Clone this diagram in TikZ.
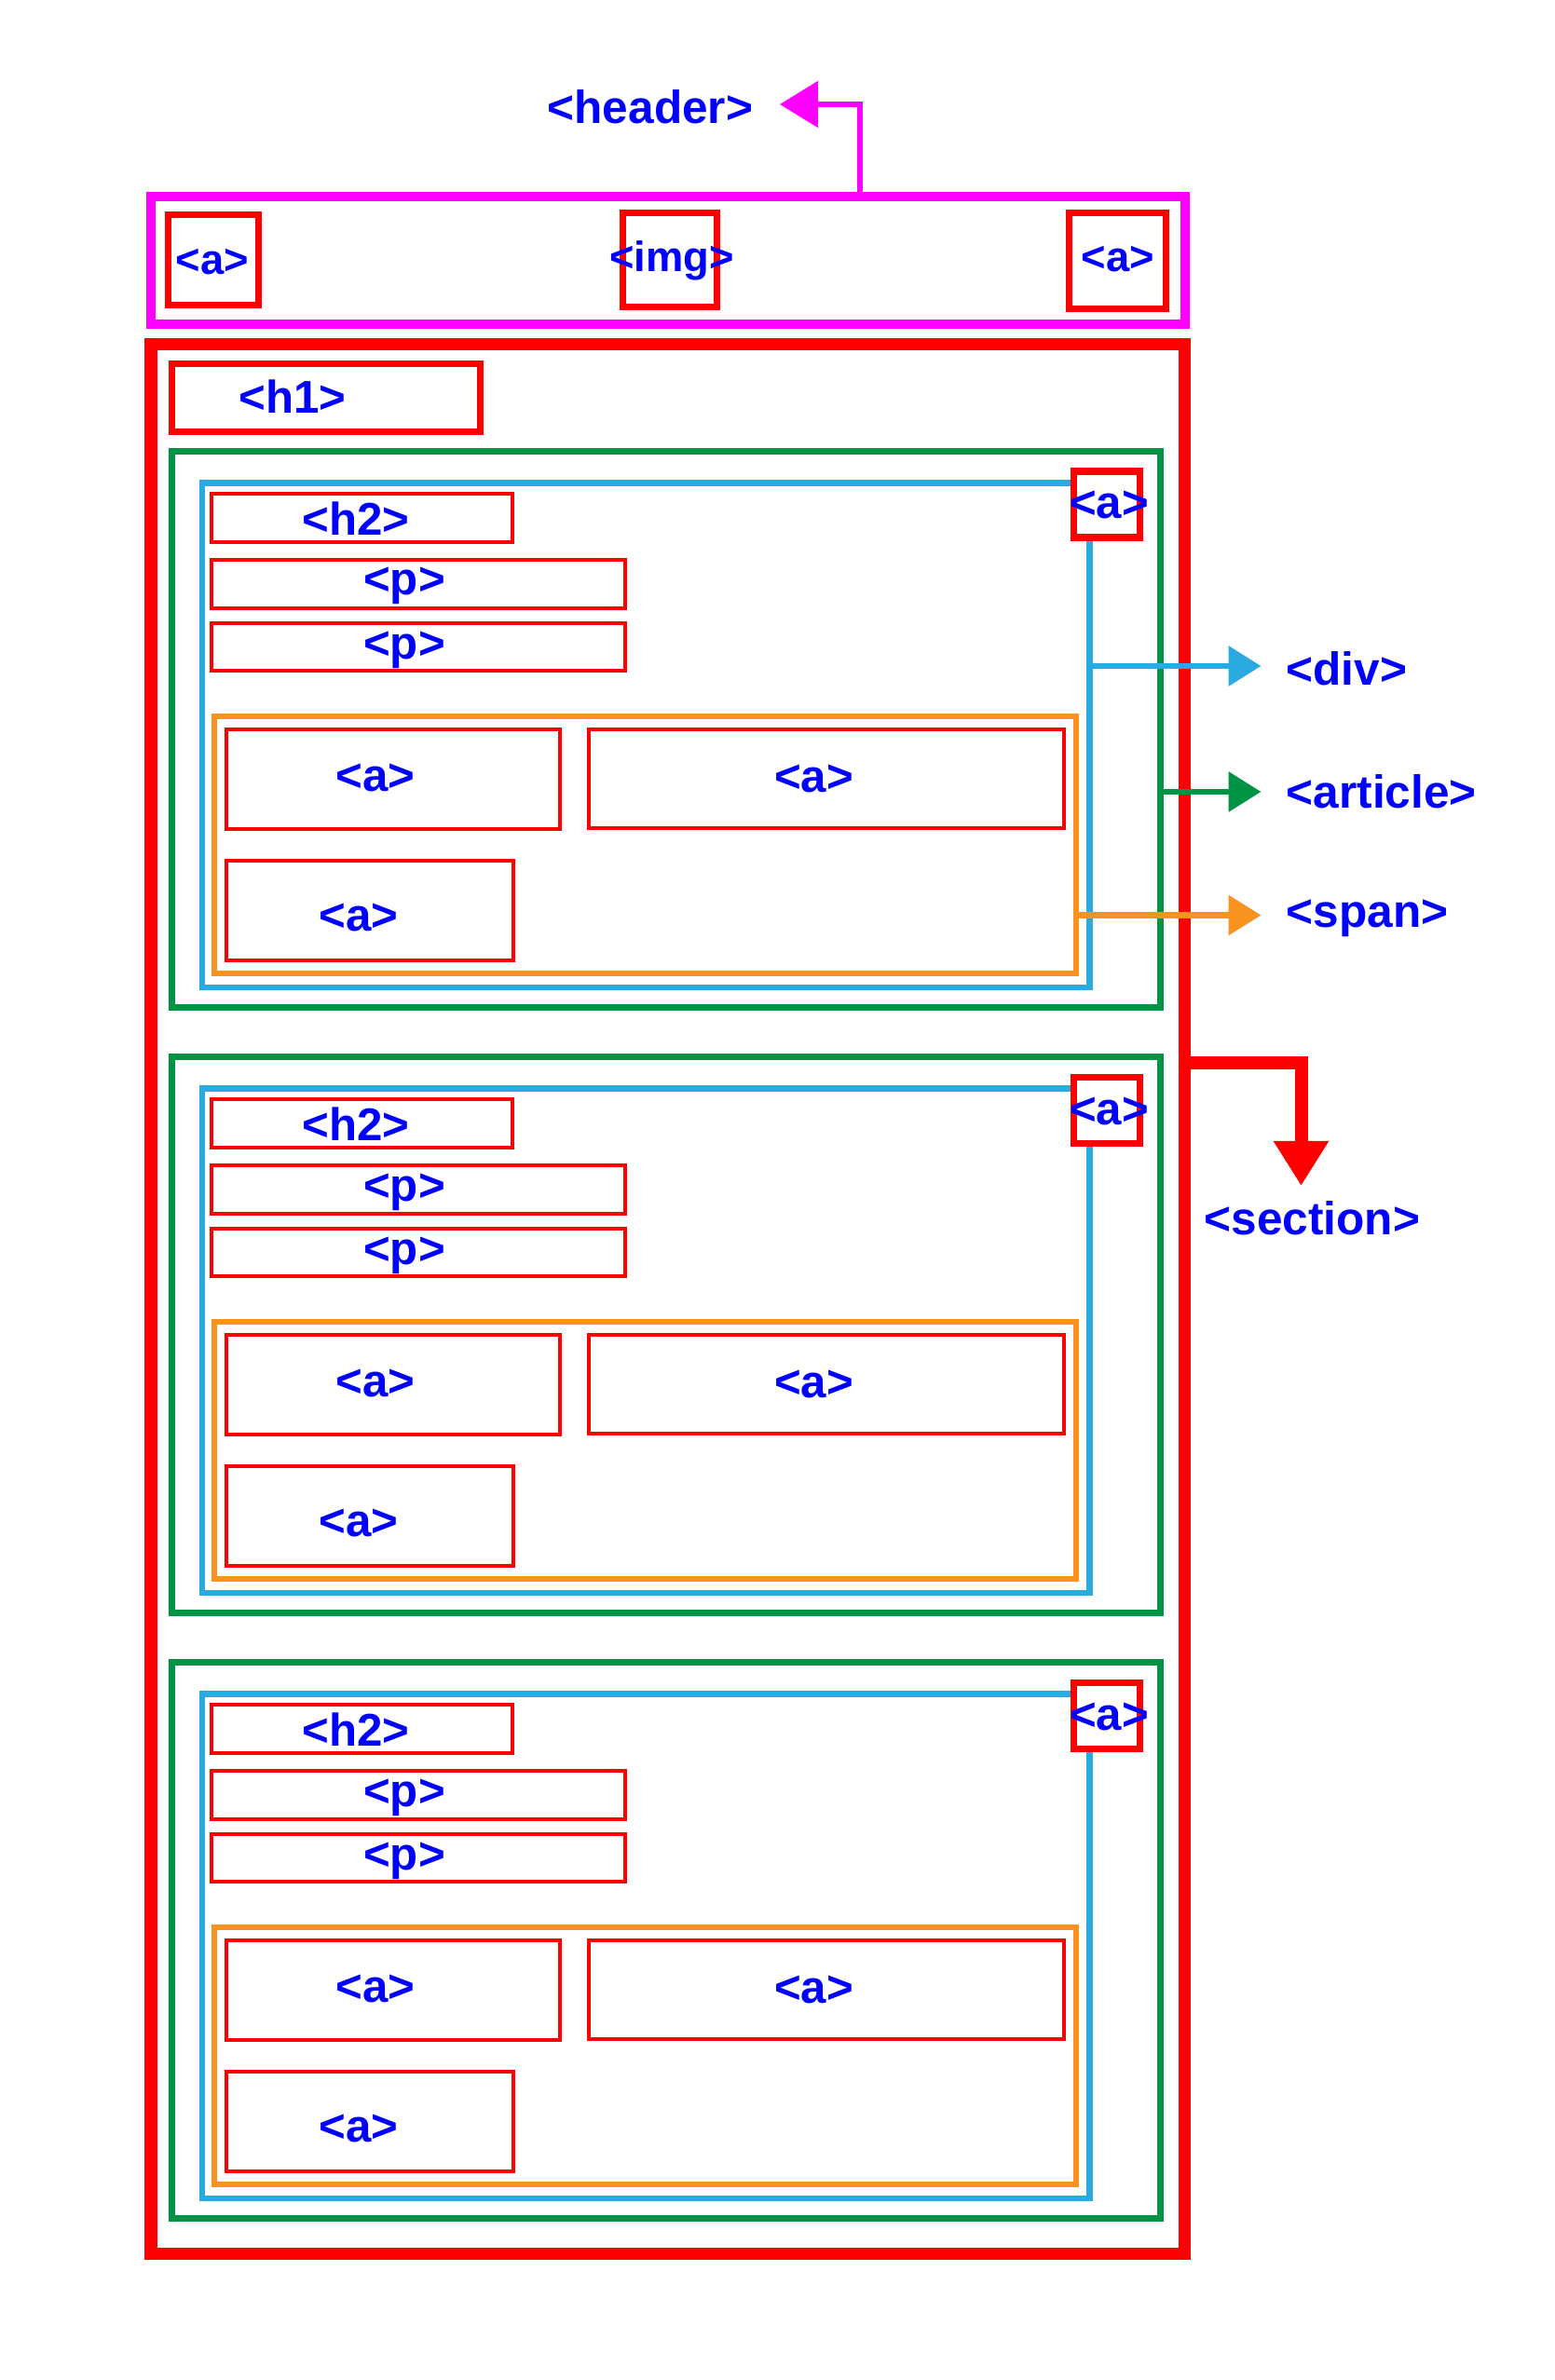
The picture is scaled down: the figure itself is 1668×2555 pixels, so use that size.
\documentclass[tikz,border=0pt]{standalone}
\usepackage{fontspec}
\setmainfont{Liberation Sans}
\usetikzlibrary{arrows.meta,fit}
\definecolor{mag}{RGB}{255,0,255}
\definecolor{rd}{RGB}{255,0,0}
\definecolor{grn}{RGB}{0,146,69}
\definecolor{lblue}{RGB}{41,171,226}
\definecolor{orng}{RGB}{247,147,30}
\definecolor{txtblue}{RGB}{0,0,255}
\begin{document}
\begin{tikzpicture}[x=0.01cm,y=-0.01cm,
  box/.style={rectangle, inner sep=0pt, outer sep=0pt},
  redthin/.style={box, draw=rd, line width=0.042cm},
  redmid/.style={box, draw=rd, line width=0.07cm},
  sectionbox/.style={box, draw=rd, line width=0.13cm},
  headerbox/.style={box, draw=mag, line width=0.10cm},
  articlebox/.style={box, draw=grn, line width=0.07cm},
  divbox/.style={box, draw=lblue, line width=0.065cm},
  spanbox/.style={box, draw=orng, line width=0.065cm},
  lab/.style={text=txtblue, font=\fontsize{14pt}{16pt}\selectfont\bfseries, inner sep=0pt, anchor=base},
  hlab/.style={lab, font=\fontsize{12.9pt}{15pt}\selectfont\bfseries},
  sidelab/.style={lab, anchor=base west, font=\fontsize{14.1pt}{16pt}\selectfont\bfseries},
  smallarrow/.style={line width=0.065cm, -{Triangle[length=0.35cm, width=0.42cm]}},
]
\fill[white] (0,0) rectangle (1668,2555);
\useasboundingbox (0,0) rectangle (1668,2555);

% header
\node[headerbox, fit={(162,211) (1272,348)}] (header) {};
\node[redmid, fit={(180,231) (277.5,328)}] (ha1) {};
\node[redmid, fit={(668,229) (769,329.5)}] (himg) {};
\node[redmid, fit={(1147,229) (1251,332)}] (ha2) {};
\node[hlab] (ha1l) at (228,295) {<a>};
\node[hlab] (himgl) at (721,292) {<img>};
\node[hlab] (ha2l) at (1200,292) {<a>};

% section
\node[sectionbox, fit={(162,369.5) (1271,2419)}] (section) {};
\node[redmid, fit={(184,391) (515,464)}] (h1) {};
\node[lab] (h1l) at (314,444) {<h1>};

\foreach \i/\dy in {1/0,2/650,3/1300}{
  \node[articlebox, fit={(184.5,484.5+\dy) (1245,1081+\dy)}] (art\i) {};
  \node[divbox, fit={(217,518.6+\dy) (1169.5,1060+\dy)}] (div\i) {};
  \node[redthin, fit={(227,530+\dy) (550,582+\dy)}] (h2\i) {};
  \node[redthin, fit={(227,601+\dy) (671,653+\dy)}] (pa\i) {};
  \node[redthin, fit={(227,669+\dy) (671,720+\dy)}] (pb\i) {};
  \node[spanbox, fit={(230,769+\dy) (1155,1045+\dy)}] (span\i) {};
  \node[redthin, fit={(243,783+\dy) (601,890+\dy)}] (aa\i) {};
  \node[redthin, fit={(632,783+\dy) (1142,889+\dy)}] (ab\i) {};
  \node[redthin, fit={(243,924+\dy) (551,1031+\dy)}] (ac\i) {};
  \node[redmid, fill=white, fit={(1152,506+\dy) (1223,577+\dy)}] (ca\i) {};
  \node[lab] (h2l\i) at (382,574+\dy) {<h2>};
  \node[lab] (pal\i) at (434,639+\dy) {<p>};
  \node[lab] (pbl\i) at (434,707+\dy) {<p>};
  \node[lab] (aal\i) at (403,849+\dy) {<a>};
  \node[lab] (abl\i) at (873.5,850+\dy) {<a>};
  \node[lab] (acl\i) at (385,999+\dy) {<a>};
  \node[lab] (cal\i) at (1190.5,557+\dy) {<a>};
}

% connectors
\coordinate (hdrcorner) at (923,112);
\coordinate (hdrtip) at (837,112);
\draw[mag, line width=0.055cm, -{Triangle[length=0.41cm, width=0.49cm]}]
  (header.north -| hdrcorner) -- (hdrcorner) -- (hdrtip);
\node[sidelab] (headerl) at (587,132.5) {<header>};

\coordinate (divtip) at (1353.5,715);
\coordinate (arttip) at (1353.5,850);
\coordinate (spantip) at (1353.5,982.5);
\draw[smallarrow, lblue] (div1.east |- divtip) -- (divtip);
\draw[smallarrow, grn] (art1.east |- arttip) -- (arttip);
\draw[smallarrow, orng] (span1.east |- spantip) -- (spantip);
\node[sidelab] (divl) at (1380,735.5) {<div>};
\node[sidelab] (artl) at (1380,867.5) {<article>};
\node[sidelab] (spanl) at (1380,995.5) {<span>};

\coordinate (seccorner) at (1396.5,1141);
\coordinate (sectip) at (1396.5,1273);
\draw[rd, line width=0.14cm, -{Triangle[length=0.48cm, width=0.56cm]}]
  (section.east |- seccorner) -- (seccorner) -- (sectip);
\node[sidelab] (secl) at (1292,1325.5) {<section>};
\end{tikzpicture}
\end{document}
